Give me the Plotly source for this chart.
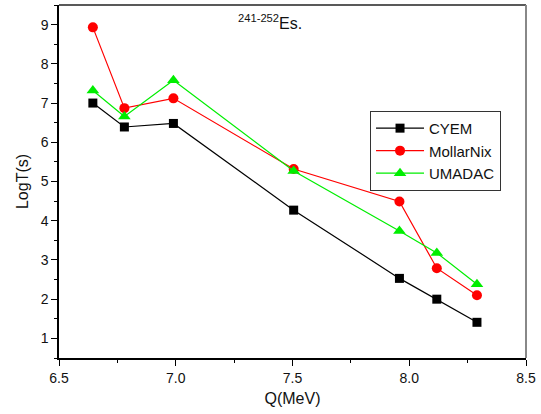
import plotly.graph_objects as go

q_mev = [6.645, 6.78, 6.99, 7.505, 7.958, 8.118, 8.29]
cyem = [7.0, 6.39, 6.48, 4.27, 2.53, 2.0, 1.41]
mollar_nix = [8.93, 6.87, 7.12, 5.32, 4.49, 2.79, 2.1]
umadac = [7.32, 6.66, 7.58, 5.27, 3.74, 3.18, 2.38]

series = [
    ("CYEM", cyem, "#000000", "square", 9),
    ("MollarNix", mollar_nix, "#ff0000", "circle", 10),
    ("UMADAC", umadac, "#00ee00", "triangle-up", 11),
]

font = "Liberation Sans, Arial, sans-serif"
fig = go.Figure()
for name, vals, col, sym, size in series:
    fig.add_trace(go.Scatter(
        x=q_mev, y=vals, name=name, mode="lines+markers",
        line=dict(color=col, width=1.2),
        marker=dict(symbol=sym, size=size, color=col, line=dict(width=0)),
    ))

fig.update_layout(
    width=541, height=414,
    margin=dict(l=59, r=15, t=5, b=56),
    paper_bgcolor="white", plot_bgcolor="white",
    font=dict(family=font, color="#111111", size=13),
    showlegend=True,
    legend=dict(
        x=0.666, y=0.70, xanchor="left", yanchor="top",
        bordercolor="#333333", borderwidth=1, bgcolor="white",
        font=dict(size=15, family=font), itemwidth=48,
        tracegroupgap=0,
    ),
    xaxis=dict(
        range=[6.5, 8.5], tickvals=[6.5, 7.0, 7.5, 8.0, 8.5],
        ticktext=["6.5", "7.0", "7.5", "8.0", "8.5"],
        ticks="outside", ticklen=6, tickwidth=1, tickcolor="#000",
        minor=dict(ticks="outside", ticklen=3, dtick=0.25, tickcolor="#000",
                   showgrid=False),
        showline=True, linecolor="#000", linewidth=1.5, mirror=False,
        showgrid=False, zeroline=False, automargin=False,
        title=dict(text="Q(MeV)", font=dict(size=16), standoff=8),
        tickfont=dict(size=14),
    ),
    yaxis=dict(
        range=[0.5, 9.5], tickvals=[1, 2, 3, 4, 5, 6, 7, 8, 9],
        ticks="outside", ticklen=6, tickwidth=1, tickcolor="#000",
        minor=dict(ticks="outside", ticklen=3, dtick=0.5, tickcolor="#000",
                   showgrid=False),
        showline=True, linecolor="#000", linewidth=1.5, mirror=False,
        showgrid=False, zeroline=False, automargin=False,
        title=dict(text="LogT(s)", font=dict(size=16), standoff=8),
        tickfont=dict(size=14),
    ),
    shapes=[
        dict(type="line", xref="paper", yref="paper", x0=0, x1=1, y0=1, y1=1,
             line=dict(color="#222222", width=1.5)),
        dict(type="line", xref="paper", yref="paper", x0=1, x1=1, y0=0, y1=1,
             line=dict(color="#888888", width=2)),
    ],
    annotations=[
        dict(text="<sup>241-252</sup>Es.", xref="paper", yref="paper",
             x=0.452, y=0.952, xanchor="center", yanchor="middle",
             showarrow=False, font=dict(size=16, family=font)),
    ],
)

fig.write_html(
    "out.html",
    config={"displayModeBar": False},
    post_script="document.body.style.margin='0';document.body.style.overflow='hidden';",
)
